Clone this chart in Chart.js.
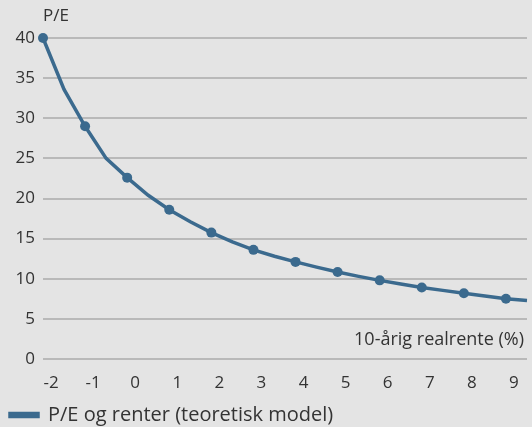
<!DOCTYPE html>
<html>
<head>
<meta charset="utf-8">
<script src="https://cdn.jsdelivr.net/npm/chart.js@4/dist/chart.umd.min.js"></script>
<style>
    html, body { margin: 0; padding: 0; background: #e4e4e4; }
    #chart { display: block; }
</style>
</head>
<body>
<canvas id="chart" width="532" height="427"></canvas>
<script>
const realRate = [-2, -1.5, -1, -0.5, 0, 0.5, 1, 1.5, 2, 2.5, 3, 3.5, 4, 4.5, 5, 5.5, 6, 6.5, 7, 7.5, 8, 8.5, 9, 9.5];
const peValues = [40, 33.6, 29, 25, 22.6, 20.4, 18.6, 17.1, 15.75, 14.6, 13.6, 12.8, 12.1, 11.45, 10.85, 10.3, 9.8, 9.35, 8.9, 8.55, 8.2, 7.85, 7.5, 7.3];
const xTicks = [-2, -1, 0, 1, 2, 3, 4, 5, 6, 7, 8, 9];
const yTicks = [0, 5, 10, 15, 20, 25, 30, 35, 40];

const seriesLabel = "P/E og renter (teoretisk model)";
const yTitle = "P/E";
const xTitle = "10-årig realrente (%)";

const FONT = "'Open Sans', sans-serif";
const BLUE = "#3b6a8e";
const TEXT = "#333333";

let points = [];
for (let i = 0; i < realRate.length; i++) {
    points.push({x: realRate[i], y: peValues[i]});
}

const axisTexts = {
    id: "axisTexts",
    afterDraw(chart) {
        let ctx = chart.ctx;
        let area = chart.chartArea;
        let yScale = chart.scales.y;
        ctx.save();
        ctx.fillStyle = TEXT;
        ctx.font = "17px " + FONT;
        ctx.textBaseline = "middle";
        ctx.textAlign = "left";
        ctx.fillText(yTitle, area.left, yScale.getPixelForValue(40) - 22);
        ctx.textAlign = "right";
        ctx.font = "18px " + FONT;
        ctx.fillText(xTitle, area.right - 3, yScale.getPixelForValue(2.35));
        ctx.restore();
    }
};

let ctx = document.getElementById("chart").getContext("2d");
let chart = new Chart(ctx, {
    type: "line",
    data: {
        datasets: [{
            label: seriesLabel,
            data: points,
            borderColor: BLUE,
            backgroundColor: BLUE,
            borderWidth: 3.5,
            tension: 0,
            pointRadius: function(c) {
                return Number.isInteger(realRate[c.dataIndex]) ? 5 : 0;
            },
            pointBackgroundColor: BLUE,
            pointBorderWidth: 0,
            clip: false
        }]
    },
    options: {
        responsive: false,
        animation: false,
        layout: {
            // negative bottom pushes the legend row down to the canvas edge
            padding: {top: 38, left: 6, right: 0, bottom: -8}
        },
        scales: {
            x: {
                type: "linear",
                min: -2,
                max: 9.5,
                afterBuildTicks: function(axis) {
                    axis.ticks = xTicks.map(v => ({value: v}));
                },
                afterFit: function(axis) {
                    axis.height = 42;
                },
                grid: {display: false},
                border: {display: false},
                ticks: {
                    color: TEXT,
                    font: {family: FONT, size: 17},
                    padding: 6,
                    labelOffset: 8,
                    maxRotation: 0,
                    autoSkip: false
                }
            },
            y: {
                min: 0,
                max: 40,
                afterBuildTicks: function(axis) {
                    axis.ticks = yTicks.map(v => ({value: v}));
                },
                afterFit: function(axis) {
                    axis.width = 37;
                },
                grid: {
                    color: "#b9b9b9",
                    lineWidth: 2,
                    drawTicks: false
                },
                border: {display: false},
                ticks: {
                    color: TEXT,
                    font: {family: FONT, size: 17},
                    padding: 8
                }
            }
        },
        plugins: {
            legend: {
                position: "bottom",
                align: "start",
                labels: {
                    color: TEXT,
                    font: {family: FONT, size: 20, lineHeight: 1},
                    boxWidth: 28,
                    boxHeight: 3,
                    padding: 4
                }
            },
            tooltip: {enabled: false}
        }
    },
    plugins: [axisTexts]
});
</script>
</body>
</html>
